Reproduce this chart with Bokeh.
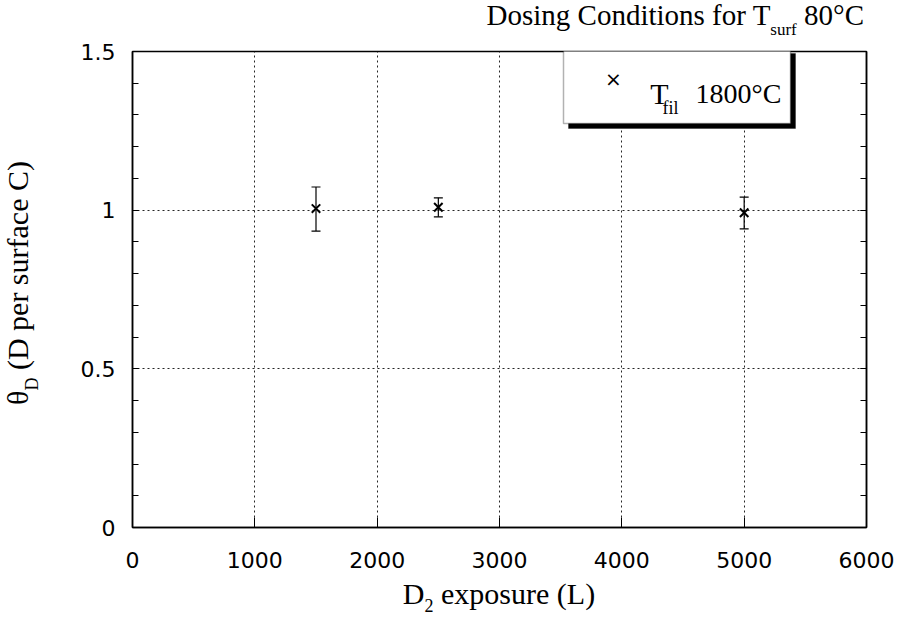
from bokeh.plotting import figure
from bokeh.layouts import column, row
from bokeh.models import (Label, BoxAnnotation, Whisker, TeeHead, ColumnDataSource,
                          SingleIntervalTicker, LinearAxis, Range1d, Div,
                          CustomLabelingPolicy)
from bokeh.embed import file_html
from bokeh.resources import INLINE

# ---- data ----
exposure = [1500, 2500, 5000]          # D2 exposure (L)
theta_d = [1.005, 1.009, 0.992]        # D per surface C
theta_lower = [0.934, 0.979, 0.941]
theta_upper = [1.073, 1.039, 1.041]

x_ticks_interval = 1000
y_ticks_interval = 0.5

title_main, title_sub, title_tail = "Dosing Conditions for T", "surf", " 80°C"
legend_main, legend_sub, legend_tail = "T", "fil", "1800°C"
xlab_main, xlab_sub, xlab_tail = "D", "2", " exposure (L)"
ylab_main, ylab_sub, ylab_tail = "θ", "D", " (D per surface C)"

SERIF = "Liberation Serif"
SANS = "DejaVu Sans"

p = figure(width=840, height=543, title=None,
           x_range=Range1d(0, 6000), y_range=Range1d(0, 1.5),
           output_backend="svg", toolbar_location=None,
           min_border_left=72, min_border_right=34,
           min_border_top=15, min_border_bottom=52, margin=0)
p.background_fill_color = "white"
p.border_fill_color = "white"
p.outline_line_color = "black"
p.outline_line_width = 1.5

xt = SingleIntervalTicker(interval=x_ticks_interval, num_minor_ticks=0)
yt = SingleIntervalTicker(interval=y_ticks_interval, num_minor_ticks=5)
p.xaxis.ticker = xt
p.yaxis.ticker = yt
p.xgrid.ticker = xt
p.ygrid.ticker = yt

for ax in (p.xaxis, p.yaxis):
    ax.axis_line_color = "black"
    ax.axis_line_width = 1.5
    ax.major_tick_line_color = "black"
    ax.minor_tick_line_color = "black"
    ax.major_tick_out = 0
    ax.minor_tick_out = 0
    ax.major_label_text_font = SANS
    ax.major_label_text_font_size = "22px"
    ax.major_label_text_color = "black"
p.xaxis.major_tick_in = 10
p.xaxis.minor_tick_line_color = None
p.yaxis.major_tick_in = 6
p.yaxis.minor_tick_in = 6
p.xaxis.major_label_standoff = 24
p.yaxis.major_label_standoff = 17

# right-hand axis: inward ticks only, no labels drawn
no_labels = CustomLabelingPolicy(code="return new Set()")
ra = LinearAxis(ticker=yt, major_label_policy=no_labels,
                major_label_text_font_size="10px",
                major_tick_in=6, major_tick_out=0, minor_tick_in=6, minor_tick_out=0,
                axis_line_color="black", axis_line_width=1.5,
                major_tick_line_color="black", minor_tick_line_color="black",
                major_label_standoff=0)
p.add_layout(ra, "right")

p.grid.grid_line_color = "black"
p.grid.grid_line_dash = "2 3"
p.grid.grid_line_width = 1
p.grid.grid_line_alpha = 0.85

src = ColumnDataSource(dict(x=exposure, y=theta_d, lower=theta_lower, upper=theta_upper))
w = Whisker(base="x", lower="lower", upper="upper", source=src,
            line_color="black", line_width=1.2,
            upper_head=TeeHead(size=9, line_color="black", line_width=1.2),
            lower_head=TeeHead(size=9, line_color="black", line_width=1.2))
p.add_layout(w)
p.scatter("x", "y", source=src, marker="x", size=12, line_width=2, color="black")

# ---- legend box with shadow ----
for dx, dy, fill, lw in ((5, -5, "black", 1), (0, 0, "white", 1.5)):
    p.add_layout(BoxAnnotation(left=431 + dx, right=658 + dx, top=479 + dy, bottom=404 + dy,
                               left_units="screen", right_units="screen",
                               top_units="screen", bottom_units="screen",
                               fill_color=fill, fill_alpha=1, line_color="black",
                               line_width=lw))

def lab(x, y, text, size, font=SERIF, align="left", baseline="alphabetic"):
    p.add_layout(Label(x=x, y=y, x_units="screen", y_units="screen", text=text,
                       text_font=font, text_font_size=f"{size}px", text_color="black",
                       text_align=align, text_baseline=baseline))

lab(481, 449, "×", 20, font=SANS, align="center", baseline="middle")
lab(536, 434, legend_main, 30, align="right")
lab(530, 420, legend_sub, 18)
lab(563, 434, legend_tail, 28)

# ---- titles as HTML text with real subscripts ----
def sub(t, size, drop):
    return (f'<span style="font-size:{size}px; line-height:0; position:relative; '
            f'top:{drop}px">{t}</span>')

base_css = (f"font-family:'{SERIF}'; color:black; white-space:nowrap; "
            f"box-sizing:border-box; margin:0;")

title_div = Div(width=900, height=36, margin=0, text=(
    f'<div style="{base_css} font-size:29px; line-height:29px; text-align:right; '
    f'width:900px; padding-right:36px; padding-top:1px;">'
    f'{title_main}{sub(title_sub, 17, 10)}{title_tail}</div>'))

xtitle_div = Div(width=900, height=37, margin=0, text=(
    f'<div style="{base_css} font-size:30px; line-height:30px; text-align:center; '
    f'width:866px; padding-left:132px; padding-top:0px;">'
    f'{xlab_main}{sub(xlab_sub, 18, 8)}{xlab_tail}</div>'))

ytitle_div = Div(width=60, height=543, margin=0, text=(
    f'<div style="{base_css} font-size:30px; line-height:30px; width:543px; '
    f'padding-left:49px; height:60px; padding-top:3px; '
    f'text-align:center; transform-origin:0 0; '
    f'transform:translate(0px, 543px) rotate(-90deg);">'
    f'{ylab_main}{sub(ylab_sub, 18, 10)}{ylab_tail}</div>'))

layout = column(title_div, row(ytitle_div, p, spacing=0), xtitle_div, spacing=0)

open("out.html", "w").write(file_html(layout, INLINE))
